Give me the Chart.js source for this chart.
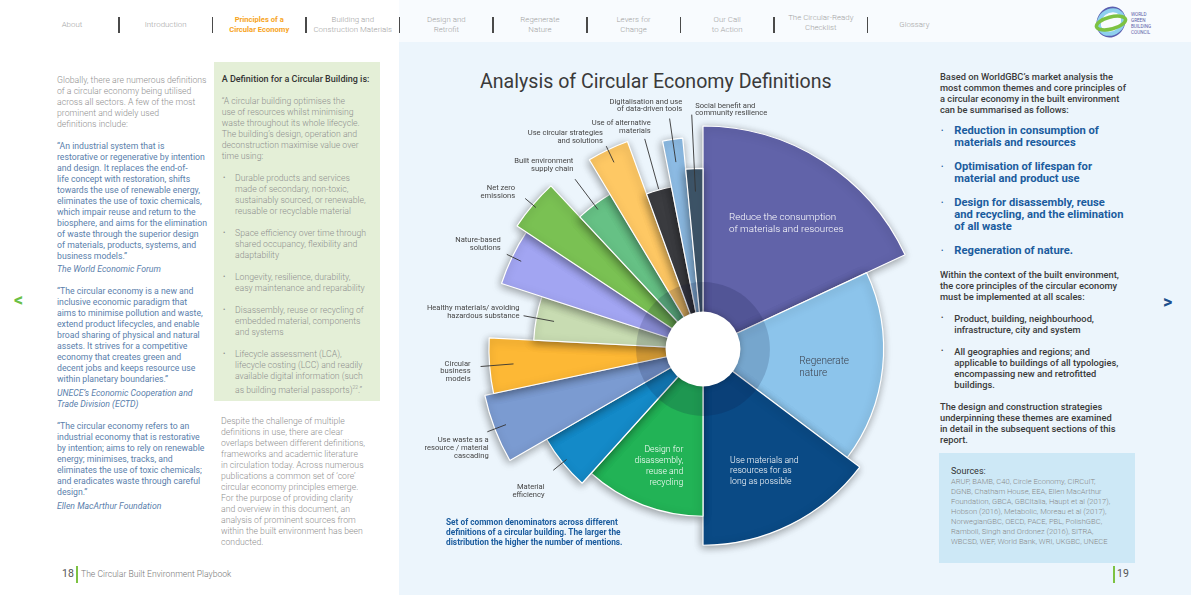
<!DOCTYPE html>
<html>
<head>
<meta charset="utf-8">
<title>Analysis of Circular Economy Definitions</title>
<script src="https://cdn.jsdelivr.net/npm/chart.js@4.4.1/dist/chart.umd.min.js"></script>
<style>
body { margin: 0; width: 1191px; height: 595px; overflow: hidden; position: relative; background: #fff; font-family: Roboto, "Noto Sans", sans-serif; }
.a { position: absolute; white-space: nowrap; }
.hdr-r { left: 399px; top: 0; width: 792px; height: 42px; background: #f8fbfe; }
.panel { left: 399px; top: 42px; width: 792px; height: 553px; background: #ecf5fc; }
.nav { width: 92px; text-align: center; font-size: 7.9px; line-height: 10px; color: #a3a3a3; font-weight: 300; }
.nav.on { color: #f7a41d; font-weight: 700; font-size: 7.6px; }
.sep { width: 1.5px; height: 16px; top: 17px; background: #4a4a4a; }
.grey { font-size: 8.7px; line-height: 11px; color: #8f8f8f; font-weight: 300; }
.quote { font-size: 8.7px; line-height: 11px; color: #5a80ac; }
.quote i { font-style: italic; }
.box { left: 214px; top: 62px; width: 166px; height: 339px; background: #e4efd7; }
.bul { font-size: 8.7px; line-height: 11px; color: #8f8f8f; font-weight: 300; }
.dot { font-size: 7px; line-height: 11px; color: #8f8f8f; }
.dark { font-size: 9.3px; line-height: 11px; color: #3a3a3a; font-weight: 500; }
.blue { font-size: 11.2px; line-height: 12px; color: #1b5c9e; font-weight: 700; }
.src { left: 939px; top: 453px; width: 196px; height: 110px; background: #cde8f6; }
.title { font-size: 19.6px; color: #3a3a3a; font-weight: 400; }
.cap { font-size: 8.3px; line-height: 10px; color: #1b5c9e; font-weight: 700; }
</style>
</head>
<body>
<div class="a hdr-r"></div>
<div class="a panel"></div>

<!-- navigation -->
<div class="a nav" style="left:26px;top:20px;">About</div>
<div class="a nav" style="left:119.6px;top:20px;">Introduction</div>
<div class="a nav on" style="left:213.2px;top:15px;">Principles of a<br>Circular Economy</div>
<div class="a nav" style="left:306.8px;top:15px;">Building and<br>Construction Materials</div>
<div class="a nav" style="left:400.4px;top:15px;">Design and<br>Retrofit</div>
<div class="a nav" style="left:494px;top:15px;">Regenerate<br>Nature</div>
<div class="a nav" style="left:587.6px;top:15px;">Levers for<br>Change</div>
<div class="a nav" style="left:681.2px;top:15px;">Our Call<br>to Action</div>
<div class="a nav" style="left:774.8px;top:13px;">The Circular-Ready<br>Checklist</div>
<div class="a nav" style="left:868.4px;top:20px;">Glossary</div>
<div class="a sep" style="left:118px;"></div>
<div class="a sep" style="left:211.6px;"></div>
<div class="a sep" style="left:305.2px;"></div>
<div class="a sep" style="left:398.8px;"></div>
<div class="a sep" style="left:492.4px;"></div>
<div class="a sep" style="left:586px;"></div>
<div class="a sep" style="left:679.6px;"></div>
<div class="a sep" style="left:773.2px;"></div>
<div class="a sep" style="left:866.8px;"></div>

<!-- logo -->
<svg class="a" style="left:1094px;top:5px;" width="64" height="34" viewBox="0 0 64 34">
  <ellipse cx="17" cy="17" rx="12" ry="14" fill="none" stroke="#5b5fb0" stroke-width="4" transform="rotate(30 17 17)"/>
  <ellipse cx="17" cy="17" rx="13" ry="11" fill="none" stroke="#8fd0ee" stroke-width="4" transform="rotate(-40 17 17)"/>
  <ellipse cx="17" cy="18" rx="15" ry="6" fill="none" stroke="#7dc242" stroke-width="3.5" transform="rotate(-15 17 18)"/>
  <text x="37" y="11" font-size="4.6" fill="#5b5fa8" font-family="Roboto">WORLD</text>
  <text x="37" y="17" font-size="4.6" fill="#5b5fa8" font-family="Roboto">GREEN</text>
  <text x="37" y="23" font-size="4.6" fill="#5b5fa8" font-family="Roboto">BUILDING</text>
  <text x="37" y="29" font-size="4.6" fill="#5b5fa8" font-family="Roboto">COUNCIL</text>
</svg>

<!-- left page, column 1 -->
<div class="a grey" style="left:57px;top:74.5px;">Globally, there are numerous definitions<br>of a circular economy being utilised<br>across all sectors. A few of the most<br>prominent and widely used<br>definitions include:</div>
<div class="a quote" style="left:57px;top:140.5px;">“An industrial system that is<br>restorative or regenerative by intention<br>and design. It replaces the end-of-<br>life concept with restoration, shifts<br>towards the use of renewable energy,<br>eliminates the use of toxic chemicals,<br>which impair reuse and return to the<br>biosphere, and aims for the elimination<br>of waste through the superior design<br>of materials, products, systems, and<br>business models.”</div>
<div class="a quote" style="left:57px;top:263.8px;"><i>The World Economic Forum</i></div>
<div class="a quote" style="left:57px;top:286.2px;">“The circular economy is a new and<br>inclusive economic paradigm that<br>aims to minimise pollution and waste,<br>extend product lifecycles, and enable<br>broad sharing of physical and natural<br>assets. It strives for a competitive<br>economy that creates green and<br>decent jobs and keeps resource use<br>within planetary boundaries.”</div>
<div class="a quote" style="left:57px;top:387.8px;"><i>UNECE’s Economic Cooperation and<br>Trade Division (ECTD)</i></div>
<div class="a quote" style="left:57px;top:421.2px;">“The circular economy refers to an<br>industrial economy that is restorative<br>by intention; aims to rely on renewable<br>energy; minimises, tracks, and<br>eliminates the use of toxic chemicals;<br>and eradicates waste through careful<br>design.”</div>
<div class="a quote" style="left:57px;top:501.2px;"><i>Ellen MacArthur Foundation</i></div>

<!-- left page, column 2 -->
<div class="a box"></div>
<div class="a" style="left:221.7px;top:73.8px;font-size:9px;line-height:11px;color:#333;font-weight:500;">A Definition for a Circular Building is:</div>
<div class="a grey" style="left:221.7px;top:95.5px;">“A circular building optimises the<br>use of resources whilst minimising<br>waste throughout its whole lifecycle.<br>The building’s design, operation and<br>deconstruction maximise value over<br>time using:</div>
<div class="a dot" style="left:223px;top:172.5px;">•</div>
<div class="a bul" style="left:235px;top:172.5px;">Durable products and services<br>made of secondary, non-toxic,<br>sustainably sourced, or renewable,<br>reusable or recyclable material</div>
<div class="a dot" style="left:223px;top:227.5px;">•</div>
<div class="a bul" style="left:235px;top:227.5px;">Space efficiency over time through<br>shared occupancy, flexibility and<br>adaptability</div>
<div class="a dot" style="left:223px;top:271.5px;">•</div>
<div class="a bul" style="left:235px;top:271.5px;">Longevity, resilience, durability,<br>easy maintenance and reparability</div>
<div class="a dot" style="left:223px;top:304.5px;">•</div>
<div class="a bul" style="left:235px;top:304.5px;">Disassembly, reuse or recycling of<br>embedded material, components<br>and systems</div>
<div class="a dot" style="left:223px;top:348.5px;">•</div>
<div class="a bul" style="left:235px;top:348.5px;">Lifecycle assessment (LCA),<br>lifecycle costing (LCC) and readily<br>available digital information (such<br>as building material passports)<sup style="font-size:5px;">22</sup>.”</div>
<div class="a grey" style="left:221px;top:415.5px;">Despite the challenge of multiple<br>definitions in use, there are clear<br>overlaps between different definitions,<br>frameworks and academic literature<br>in circulation today. Across numerous<br>publications a common set of ‘core’<br>circular economy principles emerge.<br>For the purpose of providing clarity<br>and overview in this document, an<br>analysis of prominent sources from<br>within the built environment has been<br>conducted.</div>

<!-- footers and arrows -->
<div class="a" style="left:62px;top:567px;font-size:10.5px;color:#555;">18</div>
<div class="a" style="left:76px;top:566px;width:1.5px;height:17px;background:#7dc242;"></div>
<div class="a" style="left:81px;top:569px;font-size:8.6px;color:#777;font-weight:300;">The Circular Built Environment Playbook</div>
<div class="a" style="left:1113px;top:566px;width:1.5px;height:17px;background:#7dc242;"></div>
<div class="a" style="left:1117px;top:567px;font-size:10.5px;color:#555;">19</div>
<div class="a" style="left:14px;top:289px;font-size:18px;font-weight:700;color:#6abf45;">&lt;</div>
<div class="a" style="left:1163px;top:291px;font-size:18px;font-weight:700;color:#1c4f8c;">&gt;</div>

<!-- chart -->
<div class="a title" style="left:480px;top:70px;">Analysis of Circular Economy Definitions</div>
<canvas id="chart" class="a" style="left:400px;top:45px;" width="530" height="550"></canvas>
<div class="a cap" style="left:446px;top:516.7px;">Set of common denominators across different<br>definitions of a circular building. The larger the<br>distribution the higher the number of mentions.</div>

<!-- right column -->
<div class="a dark" style="left:940px;top:71.2px;">Based on WorldGBC’s market analysis the<br>most common themes and core principles of<br>a circular economy in the built environment<br>can be summarised as follows:</div>
<div class="a dot" style="left:941px;top:125px;color:#1b5c9e;line-height:12px;">•</div>
<div class="a blue" style="left:954.3px;top:125px;">Reduction in consumption of<br>materials and resources</div>
<div class="a dot" style="left:941px;top:161px;color:#1b5c9e;line-height:12px;">•</div>
<div class="a blue" style="left:954.3px;top:161px;">Optimisation of lifespan for<br>material and product use</div>
<div class="a dot" style="left:941px;top:197px;color:#1b5c9e;line-height:12px;">•</div>
<div class="a blue" style="left:954.3px;top:197px;">Design for disassembly, reuse<br>and recycling, and the elimination<br>of all waste</div>
<div class="a dot" style="left:941px;top:245px;color:#1b5c9e;line-height:12px;">•</div>
<div class="a blue" style="left:954.3px;top:245px;">Regeneration of nature.</div>
<div class="a dark" style="left:940px;top:268.5px;">Within the context of the built environment,<br>the core principles of the circular economy<br>must be implemented at all scales:</div>
<div class="a dot" style="left:941px;top:312.8px;color:#3a3a3a;">•</div>
<div class="a dark" style="left:954.3px;top:312.8px;">Product, building, neighbourhood,<br>infrastructure, city and system</div>
<div class="a dot" style="left:941px;top:346.2px;color:#3a3a3a;">•</div>
<div class="a dark" style="left:954.3px;top:346.2px;">All geographies and regions; and<br>applicable to buildings of all typologies,<br>encompassing new and retrofitted<br>buildings.</div>
<div class="a dark" style="left:940px;top:401.2px;">The design and construction strategies<br>underpinning these themes are examined<br>in detail in the subsequent sections of this<br>report.</div>
<div class="a src"></div>
<div class="a" style="left:951px;top:465.5px;font-size:9px;line-height:11px;color:#333;">Sources:</div>
<div class="a" style="left:951px;top:476.7px;font-size:7.6px;line-height:10px;color:#8a8a8a;font-weight:300;">ARUP, BAMB, C40, Circle Economy, CIRCuIT,<br>DGNB, Chatham House, EEA, Ellen MacArthur<br>Foundation, GBCA, GBCItalia, Haupt et al (2017),<br>Hobson (2016), Metabolic, Moreau et al (2017),<br>NorwegianGBC, OECD, PACE, PBL, PolishGBC,<br>Ramboll, Singh and Ordonez (2016), SITRA,<br>WBCSD, WEF, World Bank, WRI, UKGBC, UNECE</div>

<script>
// categories, clockwise from 12 o'clock
const categories = [
    ['Reduce the consumption', 'of materials and resources'],
    ['Regenerate', 'nature'],
    ['Use materials and', 'resources for as', 'long as possible'],
    ['Design for', 'disassembly,', 'reuse and', 'recycling'],
    ['Material', 'efficiency'],
    ['Use waste as a', 'resource / material', 'cascading'],
    ['Circular', 'business', 'models'],
    ['Healthy materials/ avoiding', 'hazardous substance'],
    ['Nature-based', 'solutions'],
    ['Net zero', 'emissions'],
    ['Built environment', 'supply chain'],
    ['Use circular strategies', 'and solutions'],
    ['Use of alternative', 'materials'],
    ['Digitalisation and use', 'of data-driven tools'],
    ['Social benefit and', 'community resilience']
];
// radial length of each segment (relative, 100 = longest)
const mentions = [100, 81, 88, 75, 81, 100, 96, 76, 95, 100, 81, 99, 74, 95, 81];
// angular share of each segment, degrees
const spread = [65, 62, 53, 42, 18, 18, 15, 15, 15.5, 13.5, 12, 11, 9, 5.5, 5.5];
const colours = ['#6163a9', '#8cc4eb', '#0a4a85', '#22b356', '#148ac8', '#7b9bd1', '#fdb835', '#c8dcb2',
                 '#a2a5f2', '#7ac153', '#66c185', '#fec864', '#3b3c40', '#8ebde6', '#3e5569'];

// label placement: inside labels in polar coords (px, deg from north), callouts as leader offsets
const labelLayout = [
    {inside: true, r: 128, a: 11.7, align: 'left', size: 9.8, lh: 11.7, color: '#fff'},
    {inside: true, r: 98, a: 101, align: 'left', size: 10, lh: 11.7, color: '#3b3f4a'},
    {inside: true, r: 125, a: 167.5, align: 'left', size: 8.7, lh: 10.5, color: '#fff'},
    {inside: true, r: 119, a: 189.5, align: 'right', size: 8.7, lh: 10.7, color: '#fff'},
    {rin: -5, rout: 12, dx: -8.7, dy: 21, align: 'right'},
    {rin: -12, rout: 8, dx: 1.3, dy: 16, align: 'right'},
    {rin: -24, rout: 9, dx: -10, dy: 5, align: 'right'},
    {rin: -18, rout: 13, dx: -4, dy: -4, align: 'right'},
    {rin: -10, rout: 6, dx: -6, dy: -10, align: 'right'},
    {rin: -4, rout: 10, dx: -10, dy: -6, align: 'right'},
    {rin: -6, rout: 32, dx: -1.7, dy: -14, align: 'right'},
    {rin: -14, rout: 4, dx: -3.3, dy: -9, align: 'right'},
    {rin: 1, rout: 53, dx: 6, dy: -12, align: 'right'},
    {rin: -23, rout: 21, dx: 12.6, dy: -13, align: 'right'},
    {rin: -23, rout: 54, dx: 3.4, dy: -5, align: 'left'}
];

const decor = {
    id: 'decor',
    beforeDatasetDraw(chart) {
        const ctx = chart.ctx;
        ctx.save();
        ctx.shadowColor = 'rgba(0,0,0,0.38)';
        ctx.shadowBlur = 8;
        ctx.shadowOffsetX = -1;
        ctx.shadowOffsetY = 2;
    },
    afterDatasetDraw(chart) {
        chart.ctx.restore();
    },
    afterDatasetsDraw(chart) {
        const ctx = chart.ctx;
        const s = chart.scales.r;
        const cx = s.xCenter, cy = s.yCenter;

        // darker inner ring + white hub
        ctx.save();
        ctx.beginPath();
        ctx.arc(cx, cy, s.getDistanceFromCenterForValue(30), 0, Math.PI * 2);
        ctx.fillStyle = 'rgba(10,20,60,0.17)';
        ctx.fill();
        ctx.shadowColor = 'rgba(0,0,0,0.25)';
        ctx.shadowBlur = 6;
        ctx.beginPath();
        ctx.arc(cx, cy, s.getDistanceFromCenterForValue(16.8), 0, Math.PI * 2);
        ctx.fillStyle = '#fff';
        ctx.fill();
        ctx.restore();

        // labels
        const arcs = chart.getDatasetMeta(0).data;
        ctx.save();
        ctx.textBaseline = 'middle';
        arcs.forEach((el, i) => {
            const L = labelLayout[i];
            const lines = categories[i];
            let x, y, lh;
            if (L.inside) {
                const a = L.a * Math.PI / 180;
                x = cx + L.r * Math.sin(a);
                y = cy - L.r * Math.cos(a);
                lh = L.lh;
                ctx.font = '300 ' + L.size + 'px Roboto';
                ctx.fillStyle = L.color;
            } else {
                const mid = (el.startAngle + el.endAngle) / 2;
                const r1 = el.outerRadius + L.rin, r2 = el.outerRadius + L.rout;
                const x2 = el.x + Math.cos(mid) * r2, y2 = el.y + Math.sin(mid) * r2;
                ctx.beginPath();
                ctx.moveTo(el.x + Math.cos(mid) * r1, el.y + Math.sin(mid) * r1);
                ctx.lineTo(x2, y2);
                ctx.strokeStyle = '#333';
                ctx.lineWidth = 0.9;
                ctx.stroke();
                x = x2 + L.dx;
                y = y2 + L.dy;
                lh = 7.9;
                ctx.font = '7.6px Roboto';
                ctx.fillStyle = '#454545';
            }
            ctx.textAlign = L.align;
            const top = y - (lines.length - 1) * lh / 2;
            lines.forEach((t, k) => ctx.fillText(t, x, top + k * lh));
        });
        ctx.restore();
    }
};

new Chart(document.getElementById('chart'), {
    type: 'polarArea',
    data: {
        labels: categories,
        datasets: [{
            data: mentions,
            angle: spread,
            backgroundColor: colours,
            borderColor: '#fff',
            borderWidth: 1.2
        }]
    },
    options: {
        responsive: false,
        animation: false,
        layout: { padding: { left: 80, top: 81, right: 4, bottom: 23 } },
        scales: {
            r: { display: false, min: 0, max: 100, startAngle: 0 }
        },
        plugins: {
            legend: { display: false },
            tooltip: { enabled: false }
        }
    },
    plugins: [decor]
});
</script>
</body>
</html>
